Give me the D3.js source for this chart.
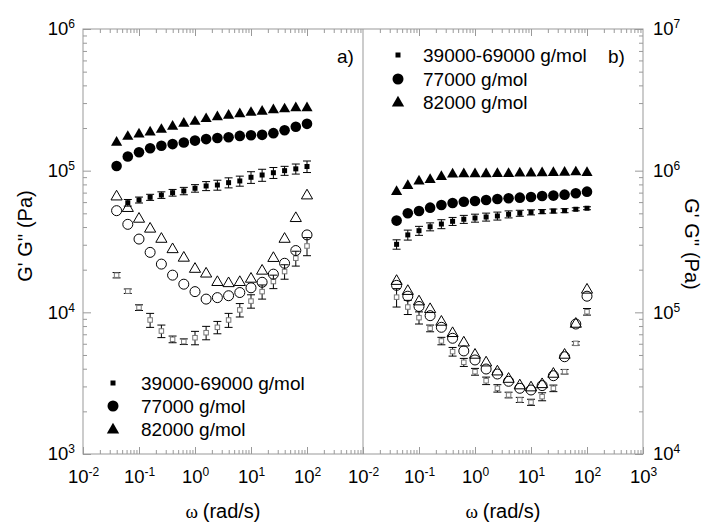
<!DOCTYPE html>
<html>
<head>
<meta charset="utf-8">
<script src="https://cdn.jsdelivr.net/npm/d3@7"></script>
<style>
  body { margin: 0; background: #fff; }
  svg { font-family: "Liberation Sans", Arial, sans-serif; }
</style>
</head>
<body>
<svg id="chart" width="713" height="523"></svg>
<script>
// ---------------- DATA ----------------
const omega = [0.0398, 0.0631, 0.1, 0.158, 0.251, 0.398, 0.631, 1, 1.58, 2.51, 3.98, 6.31, 10, 15.8, 25.1, 39.8, 63.1, 100];

// panel a)
const aG1_39 = [null, 5.94e4, 6.21e4, 6.49e4, 6.73e4, 6.99e4, 7.19e4, 7.51e4, 7.80e4, 7.92e4, 8.23e4, 8.46e4, 8.98e4, 9.32e4, 9.67e4, 1.00e5, 1.03e5, 1.07e5];
const aG1_39err = [null, 3200, 3000, 3200, 3600, 3800, 4300, 4600, 5700, 6400, 6700, 6900, 8500, 9100, 8600, 7300, 8400, 10000];
const aG1_77 = [1.08e5, 1.26e5, 1.35e5, 1.44e5, 1.50e5, 1.54e5, 1.58e5, 1.63e5, 1.67e5, 1.70e5, 1.72e5, 1.76e5, 1.78e5, 1.79e5, 1.84e5, 1.93e5, 2.04e5, 2.14e5];
const aG1_82 = [1.58e5, 1.74e5, 1.81e5, 1.87e5, 1.95e5, 2.05e5, 2.15e5, 2.22e5, 2.32e5, 2.39e5, 2.45e5, 2.51e5, 2.57e5, 2.62e5, 2.68e5, 2.72e5, 2.77e5, 2.77e5];
const aG2_39 = [1.83e4, 1.41e4, 1.08e4, 8.83e3, 7.38e3, 6.45e3, 6.21e3, 6.62e3, 7.18e3, 7.84e3, 8.83e3, 1.04e4, 1.20e4, 1.40e4, 1.65e4, 1.94e4, 2.41e4, 2.94e4];
const aG2_39err = [800, 510, 500, 1000, 750, 350, 285, 720, 780, 785, 1000, 1130, 1300, 1600, 1800, 2270, 2900, 4300];
const aG2_77 = [5.22e4, 4.18e4, 3.29e4, 2.65e4, 2.19e4, 1.83e4, 1.58e4, 1.40e4, 1.24e4, 1.27e4, 1.31e4, 1.38e4, 1.49e4, 1.63e4, 1.86e4, 2.22e4, 2.73e4, 3.52e4];
const aG2_82 = [6.55e4, 5.43e4, 4.56e4, 3.88e4, 3.29e4, 2.78e4, 2.42e4, 2.02e4, 1.87e4, 1.63e4, 1.60e4, 1.63e4, 1.72e4, 1.96e4, 2.41e4, 3.29e4, 4.61e4, 6.66e4];

// panel b)
const bG1_39 = [3.02e5, 3.52e5, 3.77e5, 4.02e5, 4.20e5, 4.39e5, 4.54e5, 4.63e5, 4.71e5, 4.79e5, 4.92e5, 5.01e5, 5.08e5, 5.14e5, 5.19e5, 5.22e5, 5.34e5, 5.43e5];
const bG1_39err = [23000, 28500, 27500, 26000, 30500, 28500, 29500, 30000, 30500, 31000, 28000, 24500, 21000, 17000, 17000, 17000, 13000, 13000];
const bG1_77 = [4.44e5, 5.00e5, 5.19e5, 5.48e5, 5.72e5, 5.91e5, 6.04e5, 6.11e5, 6.21e5, 6.31e5, 6.38e5, 6.45e5, 6.52e5, 6.63e5, 6.67e5, 6.77e5, 6.92e5, 7.11e5];
const bG1_82 = [7.11e5, 7.83e5, 8.41e5, 8.64e5, 9.07e5, 9.43e5, 9.47e5, 9.47e5, 9.47e5, 9.52e5, 9.52e5, 9.58e5, 9.58e5, 9.63e5, 9.67e5, 9.72e5, 9.77e5, 9.67e5];
const bG2_39 = [1.28e5, 1.09e5, 9.17e4, 7.71e4, 6.28e4, 5.28e4, 4.44e4, 3.81e4, 3.29e4, 2.91e4, 2.61e4, 2.41e4, 2.32e4, 2.54e4, 2.91e4, 3.81e4, 6.04e4, 1.01e5];
const bG2_39err = [19000, 12500, 9000, 4200, 3800, 3700, 2900, 2100, 2000, 1750, 1200, 1000, 1150, 1650, 1550, 1400, 1700, 5400];
const bG2_77 = [1.55e5, 1.30e5, 1.10e5, 9.47e4, 7.84e4, 6.56e4, 5.34e4, 4.61e4, 3.98e4, 3.67e4, 3.26e4, 2.91e4, 2.83e4, 3.04e4, 3.57e4, 4.86e4, 8.27e4, 1.30e5];
const bG2_82 = [1.66e5, 1.41e5, 1.19e5, 1.05e5, 8.55e4, 7.11e4, 6.10e4, 5.00e4, 4.41e4, 3.81e4, 3.38e4, 3.04e4, 2.94e4, 3.10e4, 3.67e4, 5.00e4, 8.27e4, 1.44e5];

const legendLabels = ["39000-69000 g/mol", "77000 g/mol", "82000 g/mol"];
const xMajorA = [1e-2, 1e-1, 1e0, 1e1, 1e2];
const xMajorB = [1e-2, 1e-1, 1e0, 1e1, 1e2, 1e3];
const yMajorA = [1e3, 1e4, 1e5, 1e6];
const yMajorB = [1e4, 1e5, 1e6, 1e7];
const xTitle = "(rad/s)";
const yTitle = "G' G'' (Pa)";

// ---------------- LAYOUT ----------------
const svg = d3.select("#chart");
const plotTop = 29, plotBottom = 454;
const aL = 83, mid = 363, bR = 643;
const frameColor = "#999";

const xA = d3.scaleLog().domain([1e-2, 1e3]).range([aL, mid]);
const xB = d3.scaleLog().domain([1e-2, 1e3]).range([mid, bR]);
const yA = d3.scaleLog().domain([1e3, 1e6]).range([plotBottom, plotTop]);
const yB = d3.scaleLog().domain([1e4, 1e7]).range([plotBottom, plotTop]);

function minors(lo, hi) {
  const out = [];
  for (let e = Math.log10(lo); e < Math.log10(hi); e++) {
    for (let m = 2; m <= 9; m++) out.push(m * Math.pow(10, e));
  }
  return out;
}

function styleAxis(g) {
  g.select(".domain").remove();
  g.selectAll(".tick line").attr("stroke", frameColor);
}

function supLabels(g, anchor) {
  g.selectAll(".tick text").each(function(d) {
    const t = d3.select(this);
    t.text(null).attr("fill", "#000").attr("font-size", 18.5).attr("text-anchor", anchor);
    t.append("tspan").text("10");
    t.append("tspan").attr("dy", "-0.6em").attr("font-size", 12).text(Math.round(Math.log10(d)));
  });
}

function xAxes(x, majors) {
  svg.append("g").attr("transform", `translate(0,${plotBottom})`)
    .call(d3.axisBottom(x).tickValues(minors(1e-2, 1e3)).tickSize(-4).tickFormat(""))
    .call(styleAxis);
  svg.append("g").attr("transform", `translate(0,${plotBottom})`)
    .call(d3.axisBottom(x).tickValues(majors).tickSize(-7).tickPadding(16).tickFormat(d => d))
    .call(styleAxis).call(g => supLabels(g, "middle"));
  svg.append("g").attr("transform", `translate(0,${plotTop})`)
    .call(d3.axisTop(x).tickValues(minors(1e-2, 1e3)).tickSize(-4).tickFormat(""))
    .call(styleAxis);
  svg.append("g").attr("transform", `translate(0,${plotTop})`)
    .call(d3.axisTop(x).tickValues([1e-1, 1e0, 1e1, 1e2]).tickSize(-7).tickFormat(""))
    .call(styleAxis);
}

xAxes(xA, xMajorA);
xAxes(xB, xMajorB);

svg.append("g").attr("transform", `translate(${aL},0)`)
  .call(d3.axisLeft(yA).tickValues(minors(1e3, 1e6)).tickSize(-4).tickFormat(""))
  .call(styleAxis);
svg.append("g").attr("transform", `translate(${aL},0)`)
  .call(d3.axisLeft(yA).tickValues(yMajorA).tickSize(-8).tickPadding(8).tickFormat(d => d))
  .call(styleAxis).call(g => supLabels(g, "end"));
svg.append("g").attr("transform", `translate(${bR},0)`)
  .call(d3.axisRight(yB).tickValues(minors(1e4, 1e7)).tickSize(-4).tickFormat(""))
  .call(styleAxis);
svg.append("g").attr("transform", `translate(${bR},0)`)
  .call(d3.axisRight(yB).tickValues(yMajorB).tickSize(-8).tickPadding(10).tickFormat(d => d))
  .call(styleAxis).call(g => supLabels(g, "start"));

svg.append("rect").attr("x", aL).attr("y", plotTop).attr("width", bR - aL).attr("height", plotBottom - plotTop)
  .attr("fill", "none").attr("stroke", frameColor).attr("stroke-width", 1);
svg.append("line").attr("x1", mid).attr("x2", mid).attr("y1", plotTop).attr("y2", plotBottom)
  .attr("stroke", frameColor).attr("stroke-width", 1);

// ---------------- MARKS ----------------
const triPath = d3.symbol().type(d3.symbolTriangle).size(54)();
const triLegend = d3.symbol().type(d3.symbolTriangle).size(66)();

function pts(vals, errs) {
  return omega.map((w, i) => ({ w, v: vals[i], e: errs ? errs[i] : null })).filter(d => d.v != null);
}

function errorBars(x, y, vals, errs) {
  const g = svg.append("g").attr("stroke", "#000").attr("stroke-width", 1);
  const data = pts(vals, errs);
  g.selectAll("line.v").data(data).join("line").attr("class", "v")
    .attr("x1", d => x(d.w)).attr("x2", d => x(d.w))
    .attr("y1", d => y(d.v + d.e)).attr("y2", d => y(d.v - d.e));
  g.selectAll("line.t").data(data).join("line").attr("class", "t")
    .attr("x1", d => x(d.w) - 4).attr("x2", d => x(d.w) + 4)
    .attr("y1", d => y(d.v + d.e)).attr("y2", d => y(d.v + d.e));
  g.selectAll("line.b").data(data).join("line").attr("class", "b")
    .attr("x1", d => x(d.w) - 4).attr("x2", d => x(d.w) + 4)
    .attr("y1", d => y(d.v - d.e)).attr("y2", d => y(d.v - d.e));
}

function squares(x, y, vals, filled) {
  const s = filled ? 5 : 4.5;
  svg.append("g").selectAll("rect").data(pts(vals)).join("rect")
    .attr("x", d => x(d.w) - s / 2).attr("y", d => y(d.v) - s / 2)
    .attr("width", s).attr("height", s)
    .attr("fill", filled ? "#000" : "#fff")
    .attr("stroke", filled ? "none" : "#777").attr("stroke-width", 1);
}

function circles(x, y, vals, filled) {
  svg.append("g").selectAll("circle").data(pts(vals)).join("circle")
    .attr("cx", d => x(d.w)).attr("cy", d => y(d.v)).attr("r", filled ? 5.3 : 5)
    .attr("fill", filled ? "#000" : "none")
    .attr("stroke", "#000").attr("stroke-width", filled ? 0 : 1);
}

function triangles(x, y, vals, filled) {
  svg.append("g").selectAll("path").data(pts(vals)).join("path")
    .attr("d", triPath)
    .attr("transform", d => `translate(${x(d.w)},${y(d.v)})`)
    .attr("fill", filled ? "#000" : "none")
    .attr("stroke", "#000").attr("stroke-width", filled ? 0 : 1);
}

errorBars(xA, yA, aG2_39, aG2_39err);
squares(xA, yA, aG2_39, false);
circles(xA, yA, aG2_77, false);
triangles(xA, yA, aG2_82, false);
errorBars(xA, yA, aG1_39, aG1_39err);
squares(xA, yA, aG1_39, true);
circles(xA, yA, aG1_77, true);
triangles(xA, yA, aG1_82, true);

errorBars(xB, yB, bG2_39, bG2_39err);
squares(xB, yB, bG2_39, false);
circles(xB, yB, bG2_77, false);
triangles(xB, yB, bG2_82, false);
errorBars(xB, yB, bG1_39, bG1_39err);
squares(xB, yB, bG1_39, true);
circles(xB, yB, bG1_77, true);
triangles(xB, yB, bG1_82, true);

// ---------------- LEGENDS ----------------
function legend(mx, tx, rows) {
  const g = svg.append("g");
  legendLabels.forEach((lab, i) => {
    const cy = rows[i];
    if (i === 0) g.append("rect").attr("x", mx - 2.5).attr("y", cy - 2.5).attr("width", 5).attr("height", 5).attr("fill", "#000");
    if (i === 1) g.append("circle").attr("cx", mx).attr("cy", cy).attr("r", 5.5).attr("fill", "#000");
    if (i === 2) g.append("path").attr("d", triLegend).attr("transform", `translate(${mx},${cy + 1})`).attr("fill", "#000");
    g.append("text").attr("x", tx).attr("y", cy + 7).attr("font-size", 19).attr("fill", "#000").text(lab);
  });
}
legend(113, 141, [383, 406, 429]);
legend(398, 423, [55, 79, 102]);

svg.append("text").attr("x", 337).attr("y", 63).attr("font-size", 19).text("a)");
svg.append("text").attr("x", 608).attr("y", 63).attr("font-size", 19).text("b)");

[(aL + mid) / 2, (mid + bR) / 2].forEach(cx => {
  const t = svg.append("text").attr("x", cx).attr("y", 518).attr("text-anchor", "middle").attr("font-size", 20);
  t.append("tspan").attr("font-family", "'Liberation Serif', 'DejaVu Serif', serif").attr("font-size", 19).text("ω ");
  t.append("tspan").text(xTitle);
});
svg.append("text").attr("transform", "translate(32,236) rotate(-90)").attr("text-anchor", "middle")
  .attr("font-size", 20).text(yTitle);
svg.append("text").attr("transform", "translate(685,244) rotate(90)").attr("text-anchor", "middle")
  .attr("font-size", 20).text(yTitle);
</script>
</body>
</html>
